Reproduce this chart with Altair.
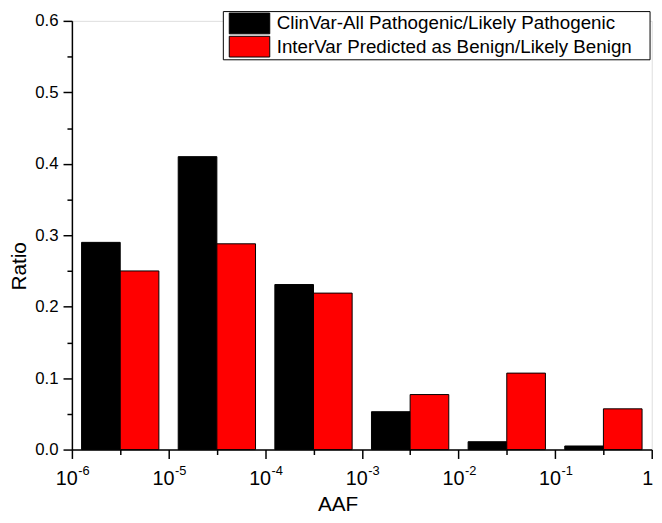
import altair as alt
import pandas as pd

# ---- data ----
decades = [-6, -5, -4, -3, -2, -1]          # left edge exponent of each AAF decade
clinvar = [0.29, 0.41, 0.231, 0.053, 0.011, 0.005]
intervar = [0.25, 0.288, 0.219, 0.077, 0.107, 0.057]
series_names = ["ClinVar-All Pathogenic/Likely Pathogenic",
                "InterVar Predicted as Benign/Likely Benign"]
series_colors = ["#000000", "#ff0000"]
y_tick_values = [0.0, 0.05, 0.1, 0.15, 0.2, 0.25, 0.3, 0.35, 0.4, 0.45, 0.5, 0.55, 0.6]
x_tick_exps = [-6, -5.5, -5, -4.5, -4, -3.5, -3, -2.5, -2, -1.5, -1, -0.5, 0]
x_label_exps = [-6, -5, -4, -3, -2, -1]

rows = []
for d, c, i in zip(decades, clinvar, intervar):
    rows.append({"series": series_names[0], "x0": 10 ** (d + 0.1), "x1": 10 ** (d + 0.5), "ratio": c})
    rows.append({"series": series_names[1], "x0": 10 ** (d + 0.5), "x1": 10 ** (d + 0.9), "ratio": i})
bars_df = pd.DataFrame(rows)

FONT = "Liberation Sans"
W, H = 587, 434

xscale = alt.Scale(type="log", domain=[1e-6, 1], nice=False)
yscale = alt.Scale(domain=[0, 0.6], nice=False, zero=True)

major_x = "abs(log(datum.value)/LN10 - round(log(datum.value)/LN10)) < 0.01"
major_y = "abs(datum.value*10 - round(datum.value*10)) < 0.001"

bars = alt.Chart(bars_df).mark_rect(stroke="black", strokeWidth=1, opacity=1).encode(
    x=alt.X("x0:Q", scale=xscale,
            axis=alt.Axis(values=[10 ** e for e in x_tick_exps], labels=False, grid=False,
                          title="AAF", titleFont=FONT, titleFontSize=21, titleFontWeight="normal",
                          titleColor="black", titleX=269, titleY=62, titleAnchor="start",
                          titleAlign="center", titleBaseline="alphabetic",
                          domainColor="black", domainWidth=1.5, tickColor="black", tickWidth=1.5,
                          tickSize={"condition": {"test": major_x, "value": 9}, "value": 5})),
    x2="x1:Q",
    y=alt.Y("ratio:Q", scale=yscale,
            axis=alt.Axis(values=y_tick_values, grid=False,
                          labelExpr=f"{major_y} ? format(datum.value, '.1f') : ''",
                          labelFont=FONT, labelFontSize=17, labelColor="black", labelPadding=5,
                          title="Ratio", titleFont=FONT, titleFontSize=21, titleFontWeight="normal",
                          titleColor="black", titleAngle=270, titleX=-47, titleY=248,
                          titleAlign="center", titleBaseline="alphabetic",
                          domainColor="black", domainWidth=1.5, tickColor="black", tickWidth=1.5,
                          tickSize={"condition": {"test": major_y, "value": 9}, "value": 5})),
    y2=alt.datum(0),
    fill=alt.Fill("series:N", scale=alt.Scale(domain=series_names, range=series_colors), legend=None),
)

lab_df = pd.DataFrame({"xv": [10 ** e for e in x_label_exps],
                       "base": ["10"] * len(x_label_exps),
                       "exp": [str(e) for e in x_label_exps]})
lab_base = alt.Chart(lab_df).mark_text(align="right", baseline="alphabetic", dx=6,
                                       font=FONT, fontSize=20, color="black").encode(
    x=alt.X("xv:Q", scale=xscale), y=alt.value(470.1), text="base:N")
lab_exp = alt.Chart(lab_df).mark_text(align="left", baseline="alphabetic", dx=6.5,
                                      font=FONT, fontSize=13, color="black").encode(
    x=alt.X("xv:Q", scale=xscale), y=alt.value(459.6), text="exp:N")
one_df = pd.DataFrame({"xv": [1.0], "t": ["1"]})
lab_one = alt.Chart(one_df).mark_text(align="right", baseline="alphabetic", dx=1.5,
                                      font=FONT, fontSize=20, color="black").encode(
    x=alt.X("xv:Q", scale=xscale), y=alt.value(470.1), text="t:N")

one = alt.Data(values=[{"k": 1}])
legend_box = alt.Chart(one).mark_rect(fill="white", stroke="black", strokeWidth=1).encode(
    x=alt.value(153.3), x2=alt.value(585.3), y=alt.value(-9.4), y2=alt.value(39.4))

legend_layers = []
row_centers = [2.6, 26.1]
for name, col, cy in zip(series_names, series_colors, row_centers):
    legend_layers.append(alt.Chart(one).mark_rect(fill=col, stroke="black", strokeWidth=1).encode(
        x=alt.value(159.3), x2=alt.value(200.3), y=alt.value(cy - 10.5), y2=alt.value(cy + 10.5)))
    legend_layers.append(alt.Chart(one).mark_text(align="left", baseline="middle", font=FONT,
                                                  fontSize=19, color="black").encode(
        x=alt.value(207.3), y=alt.value(cy), text=alt.value(name)))

chart = alt.layer(bars, lab_base, lab_exp, lab_one, legend_box, *legend_layers).properties(
    width=W, height=H,
    autosize="none",
    padding={"left": 64.7, "top": 9.9, "right": 2.3, "bottom": 63.5},
).configure_view(stroke=None).configure(background="white")

chart.save("out.html", embed_options={"renderer": "svg", "actions": False})
